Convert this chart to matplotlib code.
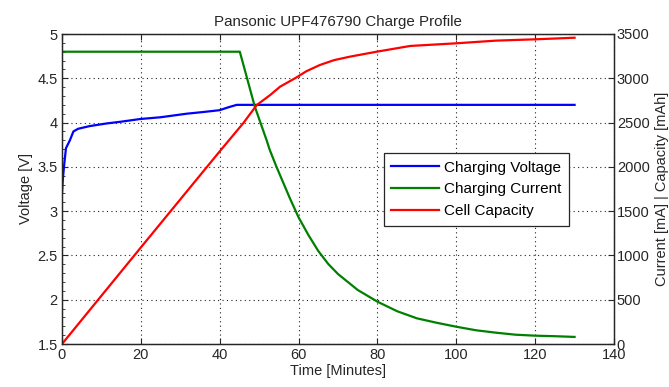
import matplotlib
matplotlib.use("Agg")
import matplotlib.pyplot as plt
from matplotlib.ticker import AutoMinorLocator

# ---- data ----
volt_t = [0, 0.2, 0.5, 1.0, 2.0, 2.9, 4.1, 7, 11.3, 15, 19.8, 25, 31.6, 36, 40, 42, 44.3, 130]
volt_v = [3.2, 3.35, 3.5, 3.71, 3.8, 3.9, 3.93, 3.96, 3.99, 4.01, 4.04, 4.06, 4.10, 4.12, 4.14, 4.17, 4.20, 4.20]

curr_t = [0, 45.1, 48.9, 51.9, 52.7, 54.4, 57.8, 60, 62.5, 65, 67.5, 70, 75, 80, 85, 90, 95, 100, 105, 110, 115, 120, 125, 130]
curr_i = [3300, 3300, 2680, 2300, 2190, 2000, 1645, 1430, 1230, 1050, 905, 790, 610, 478, 370, 290, 240, 195, 155, 128, 105, 94, 88, 80]

cap_t = [0, 20, 40, 46, 49.4, 52.8, 55.3, 59.1, 62, 65.4, 69, 73, 79.8, 88.3, 100, 110, 120, 130]
cap_c = [0, 1090, 2175, 2495, 2698, 2811, 2905, 3000, 3080, 3150, 3205, 3244, 3300, 3365, 3395, 3425, 3440, 3458]

x_ticks = [0, 20, 40, 60, 80, 100, 120, 140]
left_ticks = [1.5, 2, 2.5, 3, 3.5, 4, 4.5, 5]
left_labels = ["1.5", "2", "2.5", "3", "3.5", "4", "4.5", "5"]
right_ticks = [0, 500, 1000, 1500, 2000, 2500, 3000, 3500]

labels = ["Charging Voltage", "Charging Current", "Cell Capacity"]
title = "Pansonic UPF476790 Charge Profile"

plt.rcParams['font.family'] = ['Liberation Sans', 'DejaVu Sans']
FS = 10.5

fig = plt.figure(figsize=(6.69, 3.87), dpi=100)
ax = fig.add_axes([62/669, 43/387, 552/669, 310/387])
ax2 = ax.twinx()

l1, = ax.plot(volt_t, volt_v, color='#0000ff', lw=1.6)
l2, = ax2.plot(curr_t, curr_i, color='#008000', lw=1.6)
l3, = ax2.plot(cap_t, cap_c, color='#ff0000', lw=1.6)

ax.set_xlim(0, 140)
ax.set_ylim(1.5, 5)
ax2.set_ylim(0, 3500)
ax.set_xticks(x_ticks)
ax.set_yticks(left_ticks)
ax.set_yticklabels(left_labels)
ax2.set_yticks(right_ticks)
ax.yaxis.set_minor_locator(AutoMinorLocator(5))

ax.grid(True, which='major', color='#222222', linestyle=(0, (1, 3)), lw=0.8)

ax.tick_params(axis='both', which='major', direction='in', length=4, width=0.8,
               labelsize=FS, colors='#262626', top=True, pad=3)
ax.tick_params(axis='y', which='minor', direction='in', length=2, width=0.6,
               colors='#262626', right=False)
ax.tick_params(axis='x', which='major', top=True)
ax2.tick_params(axis='y', which='major', direction='in', length=4, width=0.8,
                labelsize=FS, colors='#262626', pad=2)

for a in (ax, ax2):
    for s in a.spines.values():
        s.set_color('#262626')
        s.set_linewidth(0.9)

ax.set_xlabel("Time [Minutes]", fontsize=FS, color='#262626', labelpad=1)
ax.set_ylabel("Voltage [V]", fontsize=FS, color='#262626', labelpad=3)
ax2.set_ylabel("Current [mA] | Capacity [mAh]", fontsize=FS, color='#262626', labelpad=4)
ax.set_title(title, fontsize=10.9, color='#262626', pad=6)

leg = ax2.legend([l1, l2, l3], labels, loc='upper left', bbox_to_anchor=(0.583, 0.616),
                 borderaxespad=0, fancybox=False, framealpha=1, edgecolor='#262626',
                 fontsize=11, handlelength=3.1, handletextpad=0.35, labelspacing=0.5,
                 borderpad=0.5)
leg.get_frame().set_linewidth(0.9)

fig.savefig("out.png", dpi=100, facecolor='white')
